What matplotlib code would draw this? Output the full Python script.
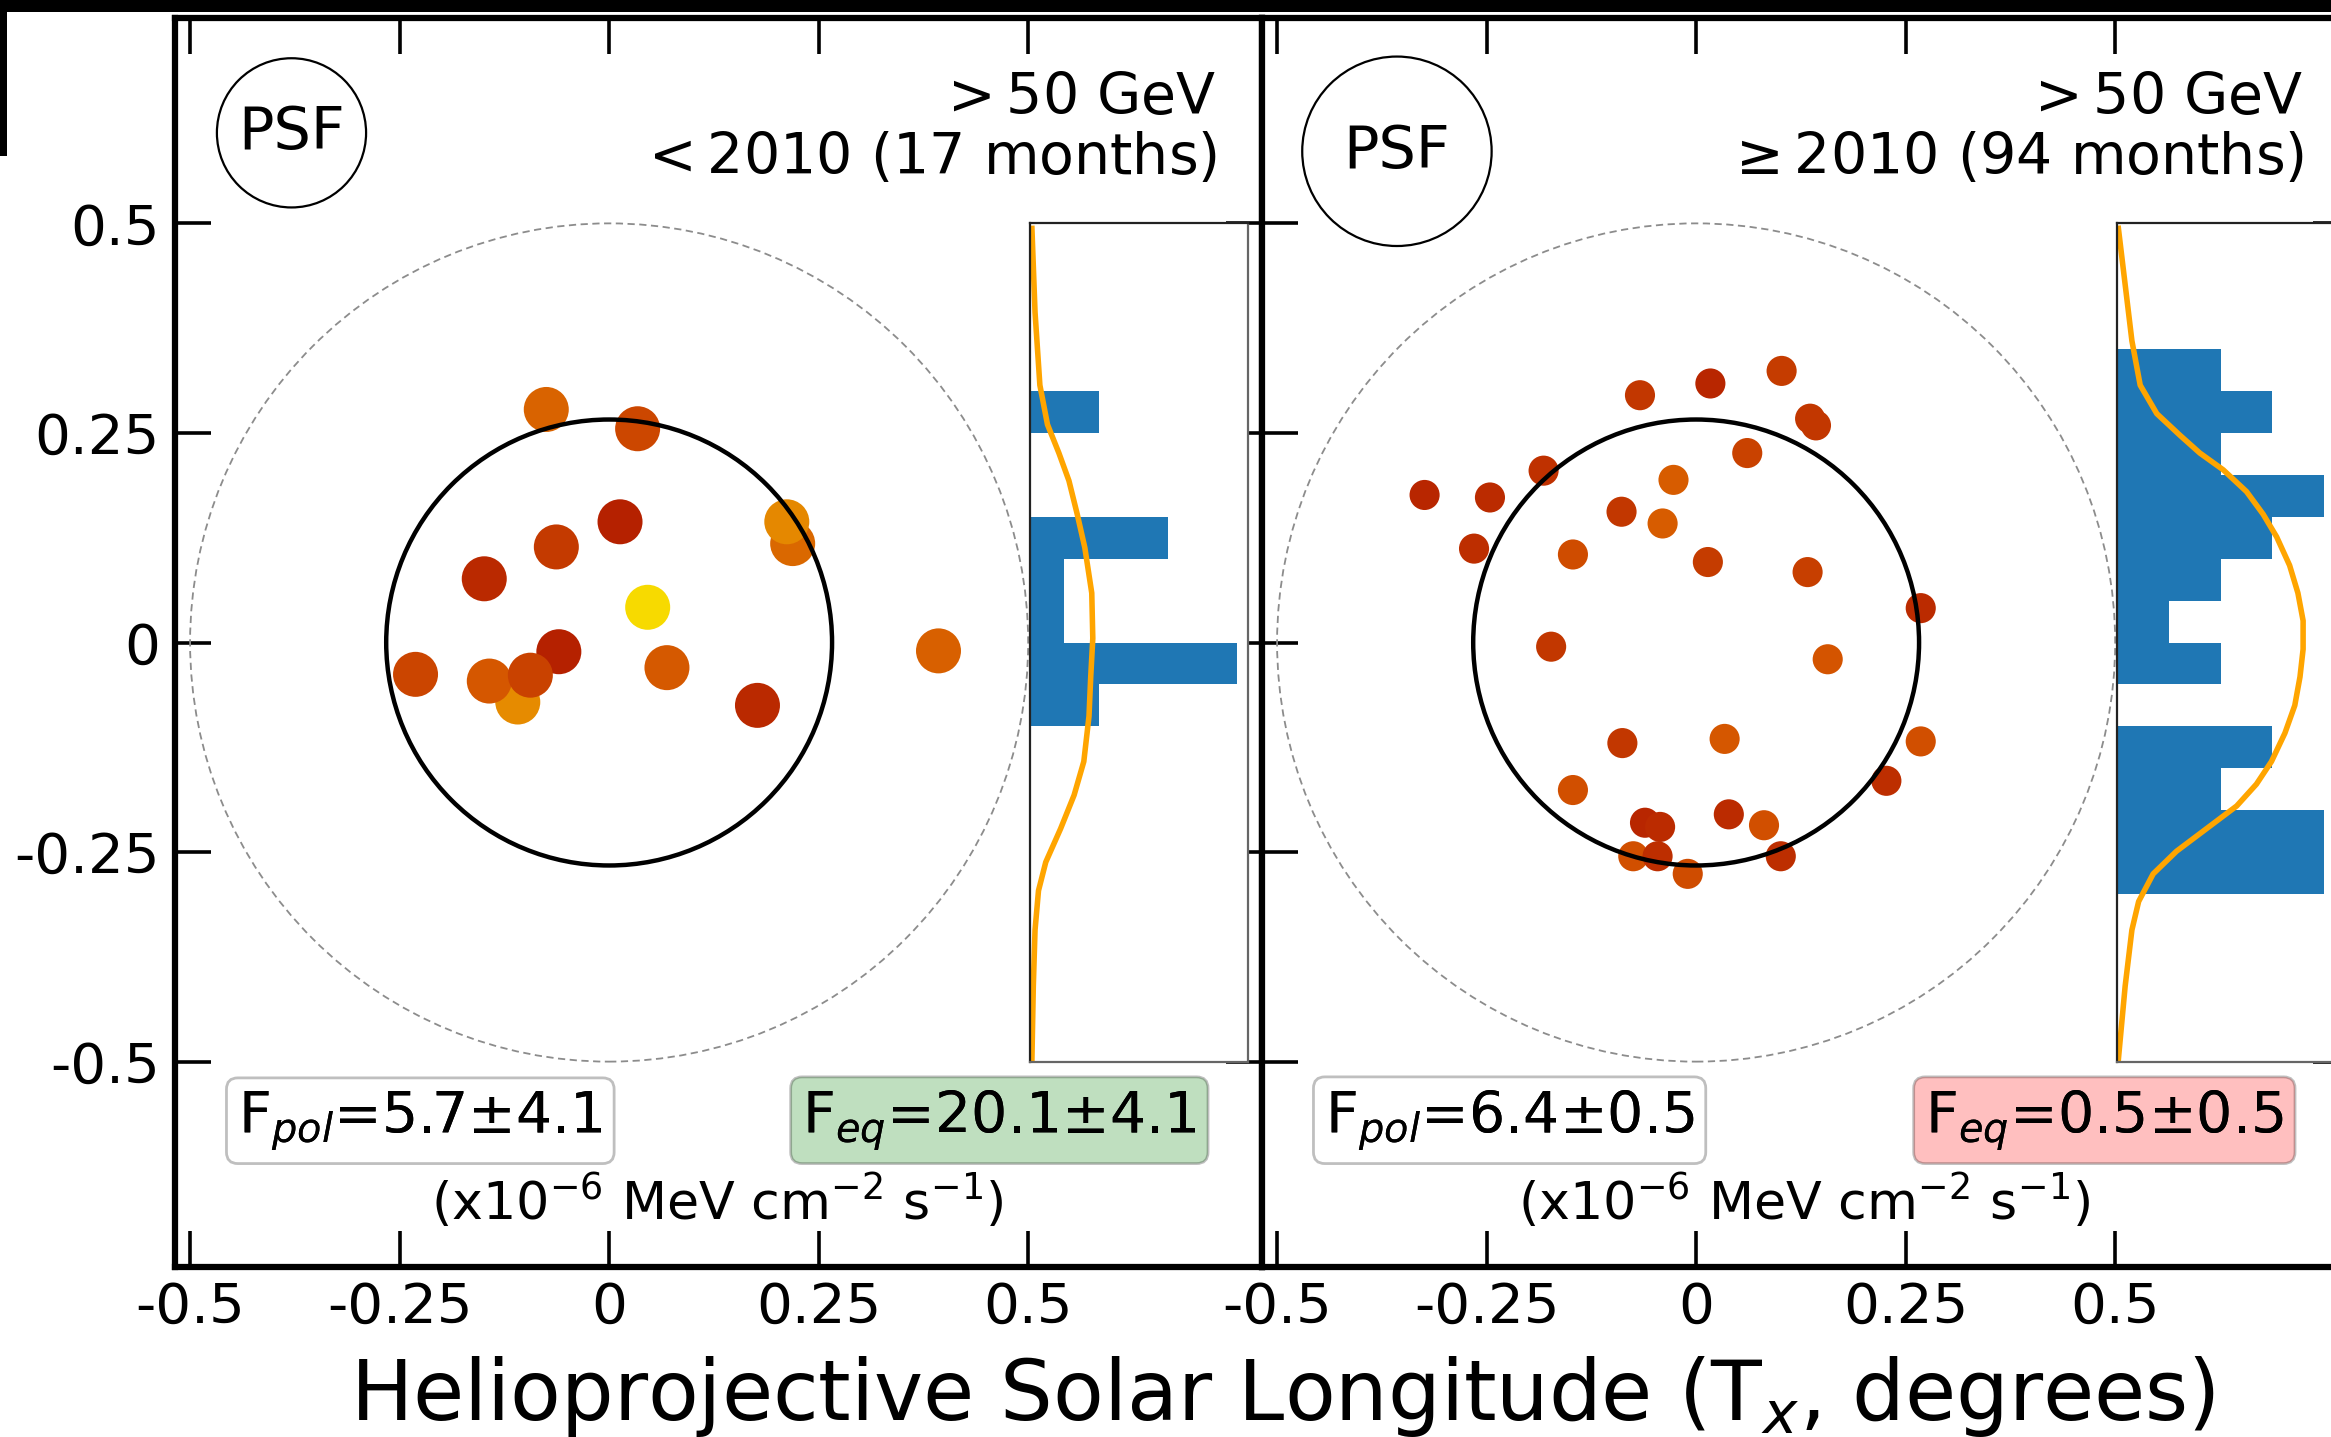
import numpy as np
import matplotlib
matplotlib.use("Agg")
import matplotlib.pyplot as plt
from matplotlib.patches import Circle, Rectangle
from matplotlib.colors import LinearSegmentedColormap

# ---------------- data ----------------
# Left panel (< 2010): photon positions (Tx, Ty) in degrees and colour value
left_tx = [-0.075, 0.219, 0.212, 0.034, 0.013, -0.063, -0.149, 0.046,
           -0.109, -0.060, -0.231, -0.143, -0.094, 0.069, 0.177, 0.393]
left_ty = [0.278, 0.118, 0.144, 0.255, 0.144, 0.114, 0.076, 0.042,
           -0.071, -0.011, -0.038, -0.046, -0.039, -0.030, -0.075, -0.010]
left_c = [0.42, 0.45, 0.65, 0.25, 0.02, 0.17, 0.07, 1.0,
          0.67, 0.02, 0.24, 0.35, 0.22, 0.36, 0.07, 0.40]

# Right panel (>= 2010)
right_tx = [-0.324, -0.246, -0.182, -0.067, 0.017, 0.102, 0.136, 0.143,
            0.061, -0.027, -0.089, -0.040, -0.265, -0.147, 0.014, 0.133,
            0.268, -0.173, 0.157, -0.088, 0.034, 0.268, 0.227, -0.147,
            -0.075, -0.046, -0.010, -0.061, -0.043, 0.039, 0.081, 0.101]
right_ty = [0.176, 0.173, 0.205, 0.295, 0.309, 0.324, 0.267, 0.259,
            0.226, 0.194, 0.156, 0.142, 0.112, 0.105, 0.096, 0.084,
            0.041, -0.005, -0.020, -0.120, -0.115, -0.118, -0.165, -0.176,
            -0.255, -0.255, -0.276, -0.215, -0.220, -0.205, -0.218, -0.255]
right_c = [0.05, 0.08, 0.12, 0.15, 0.05, 0.18, 0.15, 0.15,
           0.22, 0.38, 0.15, 0.38, 0.10, 0.28, 0.18, 0.20,
           0.08, 0.15, 0.33, 0.15, 0.35, 0.30, 0.10, 0.30,
           0.30, 0.10, 0.28, 0.05, 0.08, 0.08, 0.30, 0.10]

# Expected profiles (orange curves)
curve_left_y = [0.494, 0.394, 0.307, 0.260, 0.226, 0.193, 0.153, 0.113, 0.059,
                0.005, -0.041, -0.088, -0.142, -0.182, -0.222, -0.262, -0.296,
                -0.343, -0.410, -0.497]
curve_left_x = [0.06, 0.15, 0.29, 0.51, 0.84, 1.13, 1.37, 1.59, 1.79,
                1.82, 1.76, 1.71, 1.56, 1.28, 0.89, 0.46, 0.25,
                0.15, 0.10, 0.06]
curve_right_y = [0.494, 0.427, 0.360, 0.307, 0.273, 0.247, 0.226, 0.206, 0.180,
                 0.153, 0.126, 0.092, 0.059, 0.026, -0.008, -0.041, -0.075,
                 -0.108, -0.142, -0.169, -0.195, -0.222, -0.249, -0.276,
                 -0.309, -0.343, -0.410, -0.497]
curve_right_x = [0.03, 0.16, 0.29, 0.45, 0.77, 1.22, 1.60, 2.05, 2.50,
                 2.82, 3.08, 3.33, 3.49, 3.59, 3.59, 3.53, 3.43,
                 3.24, 2.98, 2.69, 2.31, 1.73, 1.15, 0.70,
                 0.42, 0.29, 0.16, 0.03]

tick_vals = [-0.5, -0.25, 0, 0.25, 0.5]
tick_labels = ["-0.5", "-0.25", "0", "0.25", "0.5"]

energy_text = [r"$>$50 GeV", r"$>$50 GeV"]
period_text = [r"$<$2010 (17 months)", r"$\geq$2010 (94 months)"]
fpol_text = [r"F$_{pol}$=5.7$\pm$4.1", r"F$_{pol}$=6.4$\pm$0.5"]
feq_text = [r"F$_{eq}$=20.1$\pm$4.1", r"F$_{eq}$=0.5$\pm$0.5"]
feq_color = ["green", "red"]
psf_center = [(-0.379, 0.608), (-0.357, 0.586)]
psf_radius = [0.089, 0.113]
unit_text = r"(x10$^{-6}$ MeV cm$^{-2}$ s$^{-1}$)"
sun_radius = 0.266
bins = np.round(np.arange(-0.5, 0.5001, 0.05), 3)

# ---------------- figure ----------------
W, H = 2331, 1437
fig = plt.figure(figsize=(W / 100, H / 100), dpi=100)

cmap = LinearSegmentedColormap.from_list(
    "heat", ["#b31e00", "#d45500", "#e68a00", "#f7da00"])

ax_w, ax_h = 1087, 1249
ax_bottom = (H - 1267) / H
lefts = [175, 1262]
panels = [
    (left_tx, left_ty, left_c, 1050, curve_left_x, curve_left_y),
    (right_tx, right_ty, right_c, 470, curve_right_x, curve_right_y),
]
FS = 41

for i, (tx, ty, cv, msize, cx, cy) in enumerate(panels):
    ax = fig.add_axes([lefts[i] / W, ax_bottom, ax_w / W, ax_h / H])
    ax.set_xlim(-0.518, 0.779)
    ax.set_ylim(-0.745, 0.745)
    for sp in ax.spines.values():
        sp.set_linewidth(4.5)
    ax.set_xticks(tick_vals)
    ax.set_xticklabels(tick_labels)
    ax.set_yticks(tick_vals)
    ax.set_yticklabels(tick_labels if i == 0 else [])
    ax.tick_params(direction="in", length=26, width=2.6, top=True, right=True,
                   labelsize=40.5, pad=10)
    ax.tick_params(axis="y", pad=11)

    ax.scatter(tx, ty, c=cv, cmap=cmap, vmin=0, vmax=1, s=msize,
               edgecolors="none", zorder=3)
    ax.add_patch(Circle((0, 0), sun_radius, fill=False, ec="black", lw=3.2,
                        zorder=4))
    ax.add_patch(Circle((0, 0), 0.5, fill=False, ec="#8c8c8c", lw=1.3,
                        ls=(0, (4, 2.5)), zorder=2))
    ax.add_patch(Circle(psf_center[i], psf_radius[i], fill=False, ec="black",
                        lw=1.6, zorder=4))
    ax.text(psf_center[i][0], psf_center[i][1], "PSF", ha="center",
            va="center", fontsize=42.5, zorder=5)

    ax.text(0.725, 0.630, energy_text[i], ha="right", va="baseline",
            fontsize=FS)
    ax.text(0.725, 0.559, period_text[i], ha="right", va="baseline",
            fontsize=FS)

    ax.text(-0.443, -0.585, fpol_text[i], ha="left", va="baseline",
            fontsize=FS,
            bbox=dict(boxstyle="round,pad=0.2", fc="white", ec="black",
                      alpha=0.25, lw=2))
    ax.text(-0.443, -0.585, fpol_text[i], ha="left", va="baseline",
            fontsize=FS)
    ax.text(0.701, -0.585, feq_text[i], ha="right", va="baseline",
            fontsize=FS,
            bbox=dict(boxstyle="round,pad=0.2", fc=feq_color[i], ec="black",
                      alpha=0.25, lw=2))
    ax.text(0.701, -0.585, feq_text[i], ha="right", va="baseline",
            fontsize=FS)
    ax.text(0.129, -0.689, unit_text, ha="center", va="baseline",
            fontsize=37.6)

    ins = ax.inset_axes([0.502, -0.5, 0.26, 1.0], transform=ax.transData,
                        zorder=6)
    counts, _, _ = ins.hist(ty, bins=bins, orientation="horizontal",
                            color="#1f77b4")
    ins.plot(cx, cy, color="orange", lw=4.0)
    ins.set_ylim(-0.5, 0.5)
    ins.set_xlim(0, counts.max() * 1.05)
    ins.set_xticks([])
    ins.set_yticks([])
    for name, sp in ins.spines.items():
        sp.set_linewidth(1.6)
        sp.set_color("#222222" if name in ("top", "left") else "#666666")

fig.text(1282 / W, 1 - 1420 / H,
         r"Helioprojective Solar Longitude (T$_x$, degrees)",
         ha="center", va="baseline", fontsize=59.8)

# cropped neighbouring-frame remnants along the top edge
fig.add_artist(Rectangle((0, 1 - 12 / H), 1, 12 / H, transform=fig.transFigure,
                         color="black", lw=0, zorder=10))
fig.add_artist(Rectangle((0, 1 - 156 / H), 7 / W, 156 / H,
                         transform=fig.transFigure, color="black", lw=0,
                         zorder=10))

fig.savefig("out.png", dpi=100)
